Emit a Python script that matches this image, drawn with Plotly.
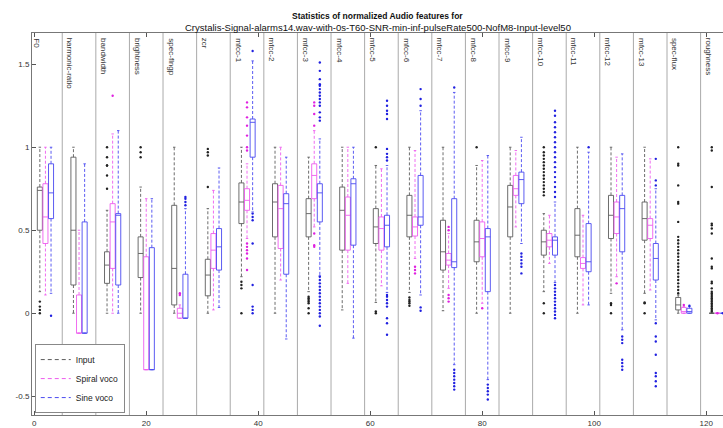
import plotly.graph_objects as go

features = ["F0", "harmonic-ratio", "bandwidth", "brightness", "spec-flngp", "zcr",
            "mfcc-1", "mfcc-2", "mfcc-3", "mfcc-4", "mfcc-5", "mfcc-6", "mfcc-7",
            "mfcc-8", "mfcc-9", "mfcc-10", "mfcc-11", "mfcc-12", "mfcc-13",
            "spec-flux", "roughness"]
series_names = ["Input", "Spiral voco", "Sine voco"]

# ---- Input ----
in_lw = [0.13, 0.0, 0.0, 0.0, 0.0, 0.0, 0.22, 0.0, 0.13, 0.02, 0.065, 0.125, 0.015, 0.0, 0.0, 0.13, 0.0, 0.12, 0.12, 0.0, 0.0]
in_q1 = [0.50, 0.17, 0.18, 0.215, 0.05, 0.105, 0.54, 0.46, 0.46, 0.38, 0.42, 0.46, 0.26, 0.31, 0.46, 0.35, 0.34, 0.45, 0.44, 0.02, 0.0]
in_med = [0.74, 0.50, 0.29, 0.36, 0.27, 0.23, 0.67, 0.67, 0.60, 0.62, 0.52, 0.59, 0.37, 0.43, 0.64, 0.43, 0.47, 0.59, 0.57, 0.05, 0.0]
in_q3 = [0.76, 0.94, 0.37, 0.46, 0.65, 0.325, 0.785, 0.78, 0.69, 0.76, 0.63, 0.71, 0.56, 0.56, 0.77, 0.50, 0.63, 0.71, 0.67, 0.095, 0.0]
in_uw = [1.0, 1.0, 0.62, 0.76, 1.0, 0.63, 1.0, 1.0, 0.94, 1.0, 0.89, 1.0, 1.0, 0.89, 1.0, 0.60, 1.0, 1.0, 1.0, 0.11, 0.0]
in_out = [
    [0.0, 0.02, 0.04, 0.07],
    [],
    [0.75, 0.83, 0.89, 0.89, 0.94, 1.0],
    [0.94, 0.97, 1.0],
    [],
    [0.76, 0.95, 0.97, 0.99],
    [0.0, 0.15, 0.17, 0.19],
    [],
    [0.0, 0.03, 0.06, 0.07, 0.08, 0.09, 0.10],
    [],
    [0.0, 0.01, 1.0],
    [0.045, 0.06, 0.07, 0.08, 0.095],
    [],
    [1.0],
    [],
    [0.0, 0.06, 0.71, 0.73, 0.75, 0.77, 0.79, 0.81, 0.83, 0.85, 0.87, 0.89, 0.91, 0.93, 0.95, 0.97, 1.0],
    [],
    [0.0, 0.05, 0.06],
    [0.0, 0.06, 0.065],
    [0.12, 0.14, 0.16, 0.18, 0.2, 0.22, 0.24, 0.26, 0.28, 0.3, 0.32, 0.34, 0.36, 0.38, 0.4, 0.42, 0.44, 0.46,
     0.55, 0.66, 0.67, 0.77, 0.89, 0.90, 1.0],
    [0.01, 0.02, 0.03, 0.04, 0.05, 0.06, 0.07, 0.08, 0.09, 0.1, 0.11, 0.12, 0.13, 0.15, 0.18, 0.19, 0.27, 0.28,
     0.33, 0.48, 0.51, 0.53, 0.54, 0.76, 0.98, 1.0],
]

# ---- Spiral voco ----
sp_lw = [0.11, -0.12, 0.0, -0.34, -0.03, 0.02, 0.45, 0.2, 0.52, 0.18, 0.165, 0.33, 0.15, 0.06, 0.52, 0.3, 0.05, 0.22, 0.14, 0.0, 0.0]
sp_q1 = [0.42, -0.12, 0.27, -0.34, -0.03, 0.27, 0.62, 0.39, 0.69, 0.38, 0.38, 0.465, 0.29, 0.34, 0.71, 0.40, 0.27, 0.48, 0.45, 0.0, 0.0]
sp_med = [0.58, -0.12, 0.55, -0.34, 0.0, 0.38, 0.68, 0.63, 0.83, 0.59, 0.51, 0.52, 0.32, 0.45, 0.75, 0.44, 0.30, 0.58, 0.53, 0.01, 0.0]
sp_q3 = [0.78, 0.11, 0.66, 0.34, 0.03, 0.48, 0.75, 0.77, 0.90, 0.70, 0.58, 0.58, 0.36, 0.55, 0.83, 0.48, 0.335, 0.67, 0.57, 0.035, 0.0]
sp_uw = [1.0, 0.5, 1.08, 0.69, 0.05, 0.74, 0.9, 1.0, 1.1, 1.0, 0.87, 0.98, 0.48, 0.92, 0.98, 0.59, 0.59, 0.94, 0.93, 0.04, 0.0]
sp_out = [
    [], [], [1.31], [], [0.11, 0.12], [],
    [0.26, 0.33, 0.36, 0.38, 0.40, 0.42, 0.98, 1.0, 1.07, 1.13, 1.18, 1.24, 1.27],
    [],
    [0.40, 0.41, 0.48, 1.13, 1.2, 1.25, 1.27],
    [], [],
    [0.24, 0.26, 0.28],
    [0.07, 0.09, 0.11, 0.5, 0.52],
    [0.03],
    [], [], [],
    [0.18],
    [],
    [0.05],
    [0.0],
]

# ---- Sine voco ----
si_lw = [0.12, -0.12, 0.0, -0.34, -0.03, 0.035, 0.61, -0.155, 0.225, -0.15, 0.125, 0.11, -0.31, -0.40, 0.42, 0.185, 0.05, -0.1, -0.04, 0.0, 0.0]
si_q1 = [0.57, -0.12, 0.17, -0.34, -0.03, 0.26, 0.94, 0.235, 0.55, 0.41, 0.40, 0.53, 0.275, 0.13, 0.66, 0.35, 0.25, 0.37, 0.20, 0.0, 0.0]
si_med = [0.725, -0.12, 0.59, -0.34, -0.03, 0.40, 1.15, 0.66, 0.725, 0.78, 0.53, 0.58, 0.31, 0.46, 0.805, 0.44, 0.31, 0.63, 0.33, 0.01, 0.0]
si_q3 = [0.90, 0.55, 0.60, 0.395, 0.235, 0.51, 1.17, 0.72, 0.78, 0.81, 0.59, 0.83, 0.69, 0.51, 0.85, 0.46, 0.54, 0.71, 0.42, 0.03, 0.0]
si_uw = [1.0, 0.9, 1.1, 0.69, 0.63, 0.875, 1.52, 0.94, 1.05, 1.0, 0.89, 1.22, 1.33, 0.95, 1.06, 0.67, 0.97, 0.96, 0.75, 0.04, 0.0]
si_out = [
    [-0.015], [], [], [],
    [0.65, 0.67, 0.69, 0.70],
    [],
    [0.0, 0.02, 0.04, 0.17, 0.42, 0.56, 0.58, 0.60, 1.58],
    [],
    [-0.075, -0.02, 0.0, 0.02, 0.04, 0.06, 0.08, 0.1, 0.12, 0.14, 0.16, 0.18, 0.2, 0.22,
     1.16, 1.18, 1.21, 1.25, 1.27, 1.29, 1.31, 1.33, 1.35, 1.37, 1.38, 1.41, 1.46, 1.51],
    [],
    [-0.13, -0.06, -0.03, 0.04, 0.06, 0.08, 0.1, 0.11, 0.92, 0.94, 0.96, 0.99, 1.17, 1.2, 1.22, 1.25, 1.28],
    [0.015, 0.035, 1.25, 1.29, 1.35],
    [-0.46, -0.44, -0.42, -0.40, -0.38, -0.36, -0.34, 1.36],
    [-0.43, -0.45, -0.47, -0.49, -0.52],
    [0.24, 0.28, 0.30, 0.32, 0.34, 0.36],
    [-0.03, -0.01, 0.01, 0.03, 0.05, 0.07, 0.09, 0.11, 0.13, 0.15, 0.17,
     0.70, 0.73, 0.76, 0.79, 0.82, 0.85, 0.88, 0.91, 0.94, 0.97, 1.0, 1.03, 1.06, 1.09, 1.12, 1.15, 1.19, 1.22],
    [1.0],
    [-0.34, -0.32, -0.30, -0.28, -0.18, -0.16, -0.14],
    [-0.44, -0.41, -0.38, -0.36, -0.25, -0.17, -0.14, -0.06, 0.77, 0.8, 0.93],
    [0.045],
    [0.0],
]

x_ticks = [0, 20, 40, 60, 80, 100, 120]
y_ticks = [-0.5, 0, 0.5, 1, 1.5]
y_tick_text = ["-0.5", "0", "0.5", "1", "1.5"]

colors = ["#5c5c5c", "#ee5cee", "#4a4af0"]
marker_colors = ["#222222", "#e020e0", "#2020e0"]
FONT = "Liberation Sans, Arial, sans-serif"
GROUP = 6
HALF_W = 0.45
CAP = 0.22

all_series = [
    (in_lw, in_q1, in_med, in_q3, in_uw, in_out),
    (sp_lw, sp_q1, sp_med, sp_q3, sp_uw, sp_out),
    (si_lw, si_q1, si_med, si_q3, si_uw, si_out),
]

fig = go.Figure()

# divider lines between features
for k in range(len(features) - 1):
    fig.add_vline(x=GROUP * k + 5, line=dict(color="#aaaaaa", width=1), layer="below")

for s, (lw, q1, med, q3, uw, outs) in enumerate(all_series):
    bx, by, mx, my, wx, wy, cx, cy, ox, oy = [], [], [], [], [], [], [], [], [], []
    for k in range(len(features)):
        x = GROUP * k + 1 + s
        bx += [x - HALF_W, x + HALF_W, x + HALF_W, x - HALF_W, x - HALF_W, None]
        by += [q1[k], q1[k], q3[k], q3[k], q1[k], None]
        mx += [x - HALF_W, x + HALF_W, None]
        my += [med[k], med[k], None]
        wx += [x, x, None, x, x, None]
        wy += [q3[k], uw[k], None, q1[k], lw[k], None]
        cx += [x - CAP, x + CAP, None, x - CAP, x + CAP, None]
        cy += [uw[k], uw[k], None, lw[k], lw[k], None]
        for v in outs[k]:
            ox.append(x)
            oy.append(v)
    c = colors[s]
    fig.add_trace(go.Scatter(x=wx, y=wy, mode="lines", line=dict(color=c, width=0.9, dash="3px,2px"),
                             showlegend=False, hoverinfo="skip"))
    fig.add_trace(go.Scatter(x=cx, y=cy, mode="lines", line=dict(color=c, width=0.9),
                             showlegend=False, hoverinfo="skip"))
    fig.add_trace(go.Scatter(x=bx, y=by, mode="lines", line=dict(color=c, width=0.9),
                             showlegend=False, hoverinfo="skip"))
    fig.add_trace(go.Scatter(x=mx, y=my, mode="lines", line=dict(color=c, width=0.9),
                             showlegend=False, hoverinfo="skip"))
    fig.add_trace(go.Scatter(x=ox, y=oy, mode="markers",
                             marker=dict(color=marker_colors[s], size=2.4, line=dict(width=0)),
                             showlegend=False, hoverinfo="skip"))

# legend entries
for s, name in enumerate(series_names):
    fig.add_trace(go.Scatter(x=[None], y=[None], mode="lines", name=name,
                             line=dict(color=colors[s], width=1, dash="4px,3px")))

# feature labels
for k, name in enumerate(features):
    fig.add_annotation(x=GROUP * k + 0.45, y=1, xref="x", yref="paper", text=name,
                       textangle=90, xanchor="center", yanchor="top", yshift=-3,
                       showarrow=False, font=dict(size=8, color="#333", family=FONT))

# title
fig.add_annotation(x=0.5, y=1.0445, xref="paper", yref="paper",
                   text="<b>Statistics of normalized Audio features for</b>",
                   showarrow=False, xanchor="center", yanchor="middle",
                   font=dict(size=8.5, color="#111", family=FONT))
fig.add_annotation(x=0.5, y=1.0157, xref="paper", yref="paper",
                   text="Crystalis-Signal-alarms14.wav-with-0s-T60-SNR-min-inf-pulseRate500-NofM8-Input-level50",
                   showarrow=False, xanchor="center", yanchor="middle",
                   font=dict(size=9.5, color="#111", family=FONT))

fig.update_layout(
    width=723, height=428,
    margin=dict(l=32, r=0, t=33, b=13),
    paper_bgcolor="white", plot_bgcolor="white",
    font=dict(family=FONT, size=8, color="#333"),
    legend=dict(x=0.004, y=0.005, xanchor="left", yanchor="bottom",
                bgcolor="white", bordercolor="#888", borderwidth=1,
                font=dict(size=8.5, color="#222", family=FONT),
                itemwidth=30, tracegroupgap=0),
)
fig.update_xaxes(range=[-0.4, 123], tickvals=x_ticks, ticks="inside", ticklen=4,
                 tickcolor="#555", showline=True, linecolor="#777", linewidth=1,
                 mirror="ticks", showgrid=False, zeroline=False,
                 tickfont=dict(size=8, color="#333"))
fig.update_yaxes(range=[-0.613, 1.688], tickvals=y_ticks, ticktext=y_tick_text,
                 ticks="inside", ticklen=4, tickcolor="#555", showline=True,
                 linecolor="#777", linewidth=1, showgrid=False, zeroline=False,
                 tickfont=dict(size=8, color="#333"))

fig.write_html("out.html")
